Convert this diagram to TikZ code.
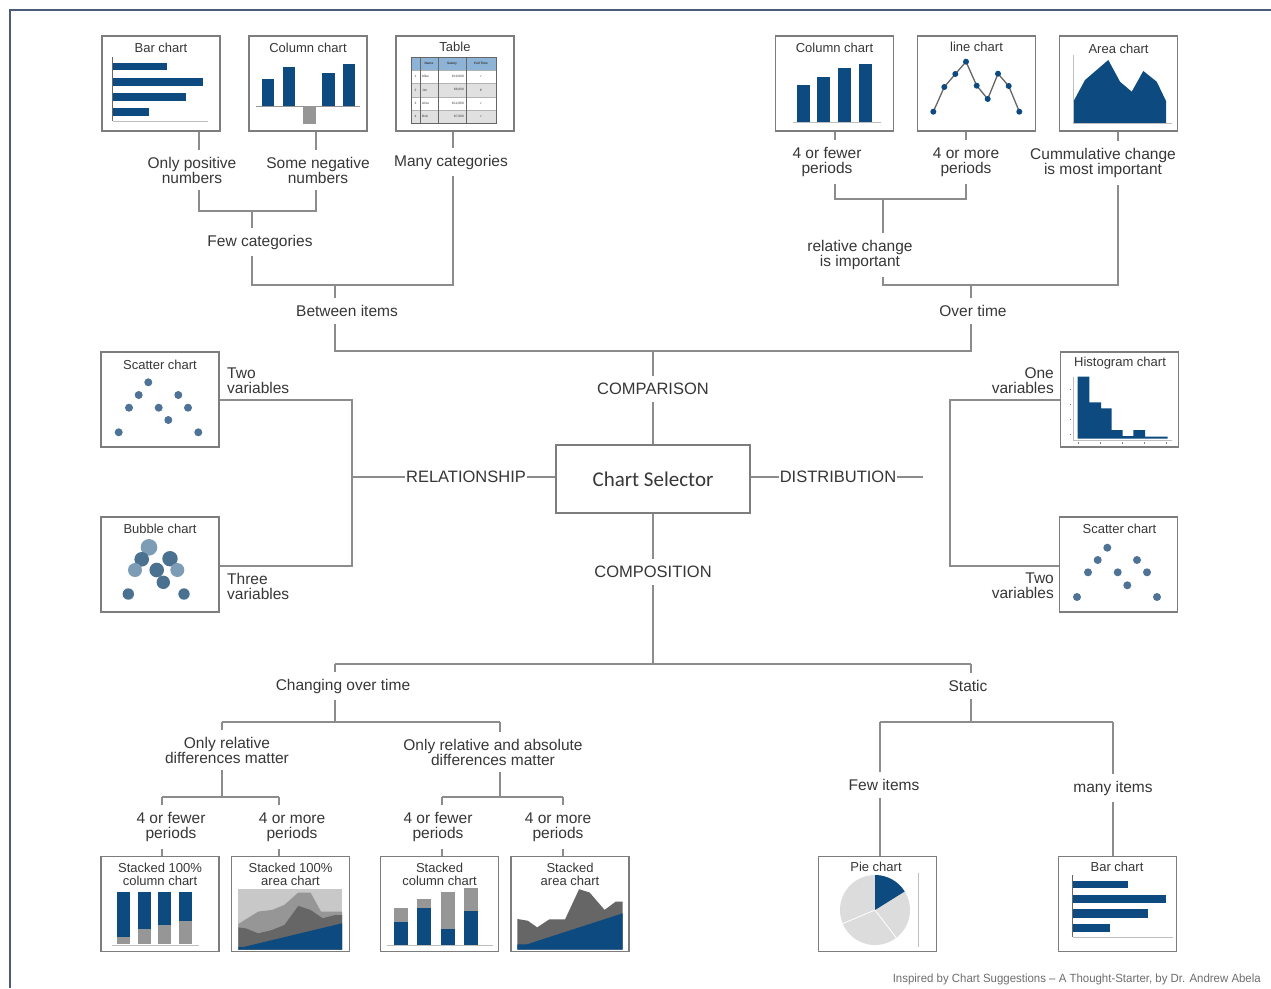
\documentclass[tikz,border=0pt]{standalone}
\usepackage{fontspec}
\usepackage{graphicx}
\setmainfont{Liberation Sans}
\newfontfamily\calib{Carlito}
\newfontfamily\symf{DejaVu Sans}
\definecolor{navy}{RGB}{12,74,128}
\definecolor{lnc}{RGB}{140,140,140}
\definecolor{boxc}{RGB}{125,125,125}
\definecolor{txt}{RGB}{55,55,55}
\definecolor{framec}{RGB}{75,91,123}
\definecolor{dotc}{RGB}{79,115,150}
\definecolor{bubd}{RGB}{75,113,144}
\definecolor{bubl}{RGB}{125,157,183}
\definecolor{gmid}{RGB}{150,150,150}
\definecolor{gdark}{RGB}{102,102,102}
\definecolor{glight}{RGB}{200,200,200}
\definecolor{axc}{RGB}{190,190,190}
\definecolor{hdr}{RGB}{141,179,214}
\definecolor{rowg}{RGB}{224,224,224}
\definecolor{pielight}{RGB}{220,220,220}
\definecolor{foot}{RGB}{110,110,110}
\begin{document}
\begin{tikzpicture}[x=1pt,y=-1pt,
  conn/.style={draw=lnc, line width=1.5pt},
  cbox/.style={draw=boxc, line width=1.8pt, fill=white, minimum width=118pt, minimum height=95pt, inner sep=0pt},
  lab/.style={font=\fontsize{15.5}{15}\selectfont, text=txt, align=center, inner xsep=1pt, inner ysep=7pt},
  capl/.style={lab, font=\fontsize{16.5}{16.5}\selectfont},
  ctitle/.style={font=\fontsize{13}{13}\selectfont, text=txt, align=center, inner sep=0pt},
  dot/.style={fill=dotc},
  bar/.style={fill=navy},
  axis/.style={draw=axc, line width=1pt}]
\useasboundingbox (0,0) rectangle (1271,988);
\fill[white] (0,0) rectangle (1271,988);
\draw[framec, line width=2pt] (10,988) -- (10,10) -- (1271,10);

% ---------- boxes ----------
\node[cbox] (bar) at (161,83.5) {};
\node[cbox] (col) at (308,83.5) {};
\node[cbox] (tab) at (455,83.5) {};
\node[cbox] (col2) at (834.5,83.5) {};
\node[cbox] (line) at (976.5,83.5) {};
\node[cbox] (area) at (1118.5,83.5) {};
\node[cbox] (scat) at (160,399.5) {};
\node[cbox] (bub) at (160,564.5) {};
\node[cbox] (hist) at (1119.5,399.5) {};
\node[cbox] (scat2) at (1118.5,564.5) {};
\node[cbox] (sc100) at (160,904) {};
\node[cbox] (sa100) at (290.5,904) {};
\node[cbox] (scst) at (439.5,904) {};
\node[cbox] (sast) at (570,904) {};
\node[cbox] (pie) at (877.5,904) {};
\node[cbox] (bar2) at (1117.5,904) {};
\node[draw=boxc, line width=1.8pt, fill=white, minimum width=194pt, minimum height=68pt, inner sep=0pt,
  font=\calib\fontsize{21}{21}\selectfont, text=txt] (sel) at (653,479) {Chart Selector};

% ---------- chart titles ----------
\node[ctitle] (barT) at (161,48) {Bar chart};
\node[ctitle] (colT) at (308,48) {Column chart};
\node[ctitle] (tabT) at (455,47) {Table};
\node[ctitle] (col2T) at (834.5,48) {Column chart};
\node[ctitle] (lineT) at (976.5,47) {line chart};
\node[ctitle] (areaT) at (1118.5,49) {Area chart};
\node[ctitle] (scatT) at (160,365) {Scatter chart};
\node[ctitle] (bubT) at (160,529) {Bubble chart};
\node[ctitle] (histT) at (1120,363) {Histogram chart};
\node[ctitle] (scat2T) at (1119.5,529) {Scatter chart};
\node[ctitle] (sc100T) at (160,874) {Stacked 100\%\\column chart};
\node[ctitle] (sa100T) at (290.5,874) {Stacked 100\%\\area chart};
\node[ctitle] (scstT) at (439.5,874) {Stacked\\column chart};
\node[ctitle] (sastT) at (570,874) {Stacked\\area chart};
\node[ctitle] (pieT) at (876,867) {Pie chart};
\node[ctitle] (bar2T) at (1117,867) {Bar chart};

% ---------- chart contents ----------
% bar chart (top)
\fill[bar] (113,62.7) rectangle (166.7,70.3);
\fill[bar] (113,77.7) rectangle (203,85.7);
\fill[bar] (113,92.7) rectangle (185.7,100.7);
\fill[bar] (113,107.7) rectangle (149.3,115.7);
\draw[axis] (112.5,121) -- (208,121);
\draw[gdark, line width=1pt] (112.5,56.7) -- (112.5,121);
% column chart (top-left)
\fill[bar] (261.7,79.3) rectangle (274.3,106.7);
\fill[bar] (282.7,66.7) rectangle (295.3,106.7);
\fill[gmid] (303.3,106.7) rectangle (316,124.3);
\fill[bar] (322.3,73.3) rectangle (335,106.7);
\fill[bar] (342.7,64) rectangle (355.3,106.7);
\draw[gmid, line width=1.2pt] (256,106.7) -- (360,106.7);
% table
\fill[hdr] (411,57) rectangle (496,70);
\fill[rowg] (411,83.3) rectangle (496,96.7);
\fill[rowg] (411,110) rectangle (496,123.3);
\foreach \yy in {70,83.3,96.7,110} \draw[gray!60, line width=0.4pt] (411,\yy) -- (496,\yy);
\foreach \xx in {420,438,466} \draw[gdark, line width=0.8pt] (\xx,57) -- (\xx,123.3);
\draw[gdark, line width=0.8pt] (411,57) rectangle (496,123.3);
\begin{scope}[every node/.style={font=\fontsize{3.2}{3.2}\selectfont, text=txt, inner sep=0pt}]
\node at (429,63.5) {\textbf{Name}};
\node at (452,63.5) {\textbf{Salary}};
\node at (481,63.5) {\textbf{Full Time}};
\node at (415.5,76.7) {1}; \node[anchor=west] at (422,76.7) {Mike}; \node[anchor=east] at (464,76.7) {\$10,000}; \node at (481,76.7) {\symf ✓};
\node at (415.5,90) {2}; \node[anchor=west] at (422,90) {Jim}; \node[anchor=east] at (464,90) {\$8,000}; \node at (481,90) {\symf ✗};
\node at (415.5,103.3) {3}; \node[anchor=west] at (422,103.3) {Alice}; \node[anchor=east] at (464,103.3) {\$12,000}; \node at (481,103.3) {\symf ✓};
\node at (415.5,116.7) {4}; \node[anchor=west] at (422,116.7) {Bob}; \node[anchor=east] at (464,116.7) {\$7,000}; \node at (481,116.7) {\symf ✓};
\end{scope}
% column chart (top-right)
\fill[bar] (796.7,85) rectangle (810,122.3);
\fill[bar] (817.3,76.7) rectangle (830,122.3);
\fill[bar] (838.3,68.3) rectangle (851,122.3);
\fill[bar] (859,64.3) rectangle (871.7,122.3);
\draw[axis] (792.7,122.3) -- (880.7,122.3);
% line chart
\draw[gdark, line width=1.3pt] (933.3,111.7) -- (944.3,87) -- (955.3,74) -- (966,61.7) -- (976.7,85.7) -- (987.7,99) -- (998,73.7) -- (1008.7,86) -- (1019.3,111.7);
\foreach \p in {(933.3,111.7),(944.3,87),(955.3,74),(966,61.7),(976.7,85.7),(987.7,99),(998,73.7),(1008.7,86),(1019.3,111.7)}
  \fill[navy] \p circle[radius=3pt];
% area chart
\fill[navy] (1073.3,101.7) -- (1085,80) -- (1108.3,60) -- (1120,81.7) -- (1131.7,91.7) -- (1143.3,71) -- (1156.7,81.7) -- (1166,101) -- (1166,123.3) -- (1073.3,123.3) -- cycle;
\draw[axis] (1073.3,55) -- (1073.3,123.3) -- (1172.3,123.3);
% scatter (left)
\foreach \p in {(148.3,382.3),(138.7,395),(178.3,395),(129,407.7),(158.7,407.7),(188,407.7),(168.3,420),(118.7,432.3),(198.3,432.3)}
  \fill[dot] \p circle[radius=4pt];
% bubble
\fill[bubl] (149,547.3) circle[radius=8.3pt];
\fill[bubd] (141.7,559.3) circle[radius=7.3pt];
\fill[bubd] (170,558.7) circle[radius=7.7pt];
\fill[bubl] (135,570) circle[radius=7pt];
\fill[bubl] (177.3,570) circle[radius=7pt];
\fill[bubd] (156.7,570) circle[radius=7.3pt];
\fill[bubd] (163.3,582.3) circle[radius=6.7pt];
\fill[bubd] (128.3,594) circle[radius=5.7pt];
\fill[bubd] (184,594) circle[radius=5.7pt];
% histogram
\fill[navy] (1077.7,438.7) -- (1077.7,376.7) -- (1089.3,376.7) -- (1089.3,402.3) -- (1101,402.3) -- (1101,408.3) -- (1111.7,408.3) -- (1111.7,430) -- (1122.7,430) -- (1122.7,436) -- (1133.3,436) -- (1133.3,430) -- (1145,430) -- (1145,436.7) -- (1167.7,436.7) -- (1167.7,438.7) -- cycle;
\draw[axis, line width=0.7pt] (1073.3,376.7) -- (1073.3,440) -- (1171.7,440);
\foreach \yy in {389,404,419,434} \draw[gray, line width=0.5pt] (1069.5,\yy) -- (1071,\yy);
\foreach \xx in {1078,1100,1122,1144,1166} \draw[gray, line width=0.5pt] (\xx,442) -- (\xx,443.5);
% scatter (right)
\foreach \p in {(1107.3,547.7),(1097.7,560),(1137,560),(1088,572.3),(1117.7,572.3),(1147,572.3),(1127.3,585.3),(1077,597),(1157,597)}
  \fill[dot] \p circle[radius=4pt];
% stacked 100% column
\foreach \xx/\gy in {117/936.7,137.5/929.4,158/925.3,178.5/921.3}{
  \fill[navy] (\xx,891.5) rectangle ({\xx+13},\gy);
  \fill[gmid] (\xx,\gy) rectangle ({\xx+13},944.4);
}
\draw[axis] (112,945) -- (199,945);
% stacked 100% area
\fill[glight] (238.3,889.2) rectangle (342,949.5);
\fill[gmid] (238.3,924) -- (258.2,911.6) -- (272.1,909.9) -- (284.4,904.9) -- (298.3,892.5) -- (310.5,892.5) -- (321,911.6) -- (342,911.6) -- (342,949.5) -- (238.3,949.5) -- cycle;
\fill[gdark] (238.3,927.4) -- (246,928.4) -- (258.2,933.4) -- (272.1,930) -- (284.4,925) -- (298.3,905.9) -- (310.5,909.9) -- (322.7,918.3) -- (335,915) -- (342,915) -- (342,949.5) -- (238.3,949.5) -- cycle;
\fill[navy] (238.3,946.8) -- (244.2,946.8) -- (342,923.3) -- (342,949.5) -- (238.3,949.5) -- cycle;
% stacked column
\foreach \xx/\gt/\nt in {394.3/908.3/922.3,417/899.2/907.6,441.4/891.5/929.4,464.1/887.5/910.9}{
  \fill[gmid] (\xx,\gt) rectangle ({\xx+14},\nt);
  \fill[navy] (\xx,\nt) rectangle ({\xx+14},945.1);
}
\draw[axis] (387.3,945.8) -- (492.7,945.8);
% stacked area
\fill[gdark] (517.3,919) -- (527.8,920.7) -- (537.2,927.4) -- (549.4,919.3) -- (565.1,919.3) -- (579.1,889.2) -- (589.6,892.5) -- (604.6,909.9) -- (615.7,901.6) -- (622.7,901.6) -- (622.7,949.5) -- (517.3,949.5) -- cycle;
\fill[navy] (517.3,944.4) -- (526.7,944.4) -- (622.7,913.3) -- (622.7,949.5) -- (517.3,949.5) -- cycle;
% pie
\coordinate (pc) at (875,910);
\fill[pielight] (pc) circle[radius=35pt];
\fill[navy] (pc) -- ++(32:35pt) arc[start angle=32, end angle=90, radius=35pt] -- cycle;
\draw[white, line width=0.8pt] (pc) -- ++(-52.6:35pt);
\draw[white, line width=0.8pt] (pc) -- ++(202.8:35pt);
\draw[axc, line width=0.8pt] (918.3,873.3) -- (918.3,946.7);
% bar chart (bottom)
\fill[bar] (1073.3,880.7) rectangle (1128.3,888.3);
\fill[bar] (1073.3,895) rectangle (1166,902.7);
\fill[bar] (1073.3,909.3) rectangle (1147.7,917.7);
\fill[bar] (1073.3,924.3) rectangle (1110,932.3);
\draw[axis] (1072.7,937.3) -- (1172.7,937.3);
\draw[gdark, line width=1pt] (1072.7,875) -- (1072.7,937.3);

% ---------- labels ----------
\node[lab] (L1) at (192,170) {Only positive\\numbers};
\node[lab] (L2) at (318,170) {Some negative\\numbers};
\node[lab] (L3) at (451,162) {Many categories};
\node[lab] (L4) at (260,242) {Few categories};
\node[lab] (L5) at (347,311) {Between items};
\node[lab] (R1) at (827,162) {4 or fewer\\periods};
\node[lab] (R2) at (966,162) {4 or more\\periods};
\node[lab] (R3) at (1103,163) {Cummulative change\\is most important};
\node[lab] (R4) at (860,255) {relative change\\is important};
\node[lab] (R5) at (973,311) {Over time};
\node[capl] (CMP) at (653,389) {COMPARISON};
\node[capl] (REL) at (466,477) {RELATIONSHIP};
\node[capl] (DIS) at (838,477) {DISTRIBUTION};
\node[capl] (CPS) at (653,572) {COMPOSITION};
\node[lab, anchor=west, align=left] (V1) at (226,381) {Two\\variables};
\node[lab, anchor=west, align=left] (V2) at (226,586) {Three\\variables};
\node[lab, anchor=east, align=right] (V3) at (1055,381) {One\\variables};
\node[lab, anchor=east, align=right] (V4) at (1055,586) {Two\\variables};
\node[lab] (CH) at (343,686) {Changing over time};
\node[lab] (ST) at (968,686) {Static};
\node[lab] (OR) at (227,750) {Only relative\\differences matter};
\node[lab] (OA) at (493,752) {Only relative and absolute\\differences matter};
\node[lab] (P1) at (171,827) {4 or fewer\\periods};
\node[lab] (P2) at (292,827) {4 or more\\periods};
\node[lab] (P3) at (438,827) {4 or fewer\\periods};
\node[lab] (P4) at (558,827) {4 or more\\periods};
\node[lab] (FI) at (884,785) {Few items};
\node[lab] (MI) at (1113,788) {many items};
\node[anchor=base east, inner sep=0pt, text=foot] (foot) at (1261,982)
  {\resizebox{368pt}{8.6pt}{Inspired by Chart Suggestions -- A Thought-Starter, by Dr. Andrew Abela}};

% ---------- junction coordinates ----------
\coordinate (a1) at (199,211); \coordinate (a2) at (316,211); \coordinate (a3) at (252,211);
\coordinate (b1) at (252,285); \coordinate (b2) at (453,285); \coordinate (b3) at (335,285);
\coordinate (c1) at (335,351); \coordinate (c2) at (971,351); \coordinate (c3) at (653,351);
\coordinate (d1) at (835,199); \coordinate (d2) at (966,199); \coordinate (d3) at (883,199);
\coordinate (e1) at (883,285); \coordinate (e2) at (1118,285); \coordinate (e3) at (971,285);
\coordinate (f1) at (352,477); \coordinate (f2) at (352,400); \coordinate (f3) at (352,566);
\coordinate (g0) at (923,477); \coordinate (g1) at (950,400); \coordinate (g2) at (950,566);
\coordinate (h0) at (653,664); \coordinate (h1) at (335,664); \coordinate (h2) at (971,664);
\coordinate (i0) at (335,722); \coordinate (i1) at (222,722); \coordinate (i2) at (500,722);
\coordinate (j0) at (222,797); \coordinate (j1) at (162,797); \coordinate (j2) at (279,797);
\coordinate (k0) at (500,797); \coordinate (k1) at (442,797); \coordinate (k2) at (563,797);
\coordinate (m0) at (971,722); \coordinate (m1) at (880,722); \coordinate (m2) at (1113,722);

% ---------- connectors ----------
\draw[conn] (bar.south -| a1) -- (L1.north -| a1);
\draw[conn] (L1.south -| a1) -- (a1) -- (a2) -- (L2.south -| a2);
\draw[conn] (col.south -| a2) -- (L2.north -| a2);
\draw[conn] (a3) -- (L4.north -| a3);
\draw[conn] (L4.south -| b1) -- (b1) -- (b2) -- (L3.south -| b2);
\draw[conn] (tab.south -| b2) -- (L3.north -| b2);
\draw[conn] (b3) -- (L5.north -| b3);
\draw[conn] (L5.south -| c1) -- (c1) -- (c2) -- (R5.south -| c2);
\draw[conn] (c3) -- (CMP.north -| c3);
\draw[conn] (CMP.south -| c3) -- (sel.north -| c3);
\draw[conn] (col2.south -| d1) -- (R1.north -| d1);
\draw[conn] (R1.south -| d1) -- (d1) -- (d2) -- (R2.south -| d2);
\draw[conn] (line.south -| d2) -- (R2.north -| d2);
\draw[conn] (d3) -- (R4.north -| d3);
\draw[conn] (R4.south -| e1) -- (e1) -- (e2) -- (R3.south -| e2);
\draw[conn] (area.south -| e2) -- (R3.north -| e2);
\draw[conn] (e3) -- (R5.north -| e3);
\draw[conn] (REL.east) -- (sel.west |- REL.east);
\draw[conn] (f1) -- (REL.west);
\draw[conn] (scat.east |- f2) -- (f2) -- (f3) -- (bub.east |- f3);
\draw[conn] (sel.east |- DIS.west) -- (DIS.west);
\draw[conn] (DIS.east) -- (g0);
\draw[conn] (hist.west |- g1) -- (g1) -- (g2) -- (scat2.west |- g2);
\draw[conn] (sel.south -| c3) -- (CPS.north -| c3);
\draw[conn] (CPS.south -| c3) -- (h0);
\draw[conn] (h1) -- (h2);
\draw[conn] (h1) -- (CH.north -| h1);
\draw[conn] (h2) -- (ST.north -| h2);
\draw[conn] (CH.south -| i0) -- (i0);
\draw[conn] (i1) -- (i2);
\draw[conn] (i1) -- (OR.north -| i1);
\draw[conn] (i2) -- (OA.north -| i2);
\draw[conn] (OR.south -| j0) -- (j0);
\draw[conn] (j1) -- (j2);
\draw[conn] (j1) -- (P1.north -| j1);
\draw[conn] (P1.south -| j1) -- (sc100.north -| j1);
\draw[conn] (j2) -- (P2.north -| j2);
\draw[conn] (P2.south -| j2) -- (sa100.north -| j2);
\draw[conn] (OA.south -| k0) -- (k0);
\draw[conn] (k1) -- (k2);
\draw[conn] (k1) -- (P3.north -| k1);
\draw[conn] (P3.south -| k1) -- (scst.north -| k1);
\draw[conn] (k2) -- (P4.north -| k2);
\draw[conn] (P4.south -| k2) -- (sast.north -| k2);
\draw[conn] (ST.south -| m0) -- (m0);
\draw[conn] (m1) -- (m2);
\draw[conn] (m1) -- (FI.north -| m1);
\draw[conn] (FI.south -| m1) -- (pie.north -| m1);
\draw[conn] (m2) -- (MI.north -| m2);
\draw[conn] (MI.south -| m2) -- (bar2.north -| m2);
\end{tikzpicture}
\end{document}
